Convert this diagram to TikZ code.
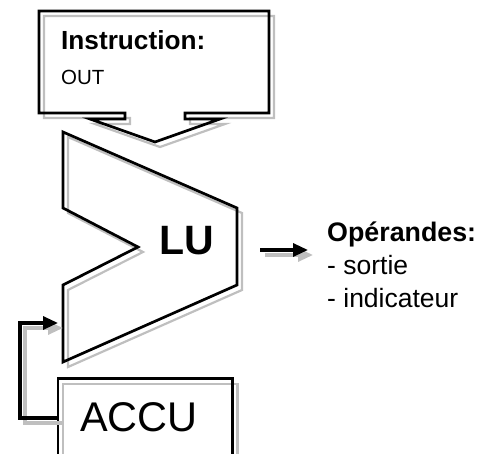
\documentclass[tikz,border=0pt]{standalone}
\usepackage{fontspec}
\setmainfont{Liberation Sans}
\usetikzlibrary{arrows.meta,calc}
\tikzset{
  outl/.style={draw=black, line width=2.7pt, line join=miter},
  shad/.style={draw=gray!50, line width=2.2pt, line join=miter},
  arr/.style={draw=black, line width=3.2pt, -{Triangle[length=15pt,width=13pt]}},
  arrshad/.style={draw=gray!50, line width=3.2pt, -{Triangle[length=15pt,width=13pt]}},
  txt/.style={inner sep=0pt, anchor=base west},
}
\begin{document}
\begin{tikzpicture}[x=1pt,y=-1pt]
\useasboundingbox (0,0) rectangle (488,454);
% Instruction box
\foreach \s/\st in {5/shad,0/outl}{
  \draw[\st, shift={(\s,\s)}] (39,11) -- (269,11) -- (269,113) -- (185,113) -- (185,119) -- (220,119)
    -- (155,142) -- (90,119) -- (125,119) -- (125,113) -- (39,113) -- cycle;
}
\node[txt, font=\bfseries\fontsize{26.2}{30}\selectfont] (instr) at (61,50) {Instruction:};
\node[txt, font=\fontsize{20.5}{24}\selectfont] (out) at (61,85) {OUT};
% LU shape
\foreach \s/\st in {5/shad,0/outl}{
  \draw[\st, shift={(\s,\s)}] (63,132) -- (237,208) -- (237,285) -- (63,362) -- (63,285) -- (138,247) -- (63,208) -- cycle;
}
\node[txt, font=\bfseries\fontsize{41}{48}\selectfont] (lu) at (159,255) {LU};
% ACCU box
\node[draw=none, minimum width=174pt, minimum height=78pt, inner sep=0pt, anchor=west] (accu) at (58,418) {};
\draw[shad] ($(accu.north west)+(5,5)$) rectangle ($(accu.south east)+(5,5)$);
\draw[outl] (accu.north west) rectangle (accu.south east);
\node[txt, font=\fontsize{41.5}{48}\selectfont] (accut) at (80,432) {ACCU};
% feedback arrow
\coordinate (fbc) at (20,323);
\coordinate (luin) at (58,323);
\draw[arrshad] ([shift={(5,5)}]accu.west) -| ([shift={(5,5)}]fbc) -- ([shift={(5,5)}]luin);
\draw[arr] (accu.west) -| (fbc) -- (luin);
% output arrow
\coordinate (luout) at (260,250);
\coordinate (opin) at (308,250);
\draw[arrshad] ([shift={(5,5)}]luout) -- ([shift={(5,5)}]opin);
\draw[arr] (luout) -- (opin);
% operand text
\node[txt, font=\bfseries\fontsize{26.8}{30}\selectfont] (op) at (327,242) {Opérandes:};
\node[txt, font=\fontsize{26.5}{30}\selectfont] (s1) at (327,275) {- sortie};
\node[txt, font=\fontsize{26.5}{30}\selectfont] (s2) at (327,308) {- indicateur};
\end{tikzpicture}
\end{document}
